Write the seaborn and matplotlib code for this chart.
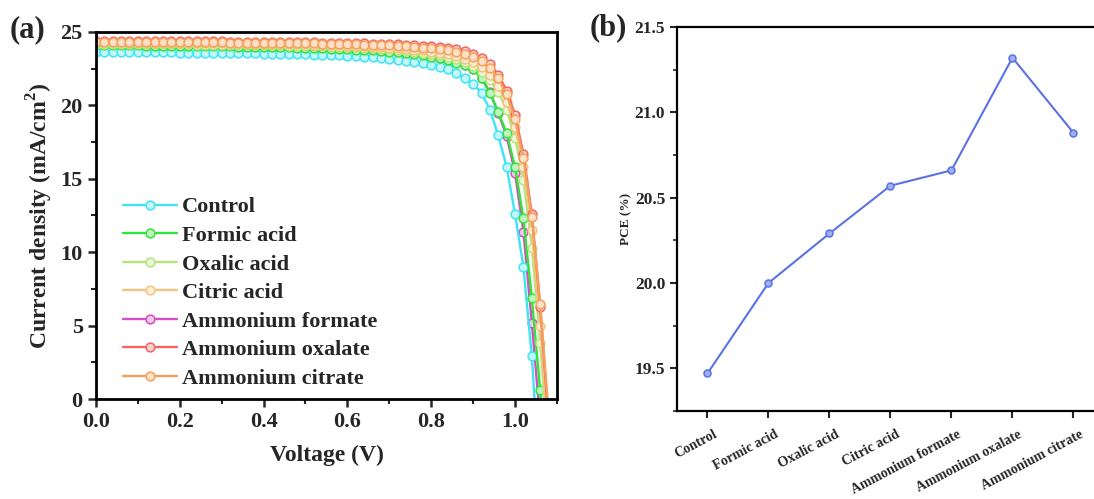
import numpy as np
import pandas as pd
import matplotlib
matplotlib.use("Agg")
import matplotlib.pyplot as plt
import matplotlib.transforms as mtransforms
from matplotlib.ticker import MultipleLocator, FormatStrFormatter
import seaborn as sns

# ---------------- data ----------------
# J-V sweep voltages (V)
voltage = [
    0.00, 0.02, 0.04, 0.06, 0.08, 0.10, 0.12, 0.14, 0.16, 0.18, 0.20,
    0.22, 0.24, 0.26, 0.28, 0.30, 0.32, 0.34, 0.36, 0.38, 0.40, 0.42,
    0.44, 0.46, 0.48, 0.50, 0.52, 0.54, 0.56, 0.58, 0.60, 0.62, 0.64,
    0.66, 0.68, 0.70, 0.72, 0.74, 0.76, 0.78, 0.80, 0.82, 0.84, 0.86,
    0.88, 0.90, 0.92, 0.94, 0.96, 0.98, 1.00, 1.02, 1.04, 1.06, 1.08,
]

# current density (mA/cm2) for each device
j_control = [
    23.65, 23.65, 23.64, 23.64, 23.63, 23.63, 23.62, 23.62, 23.61, 23.61, 23.60,
    23.60, 23.59, 23.58, 23.58, 23.57, 23.56, 23.56, 23.55, 23.54, 23.53, 23.52,
    23.51, 23.50, 23.49, 23.47, 23.46, 23.44, 23.42, 23.40, 23.37, 23.34, 23.31,
    23.27, 23.23, 23.18, 23.12, 23.05, 22.97, 22.88, 22.77, 22.64, 22.45, 22.20,
    21.85, 21.45, 20.85, 19.70, 17.95, 15.80, 12.60, 9.00, 2.90, -6.00, -15.00,
]
j_formic = [
    24.10, 24.10, 24.09, 24.09, 24.08, 24.08, 24.07, 24.07, 24.06, 24.06, 24.05,
    24.05, 24.04, 24.04, 24.03, 24.02, 24.02, 24.01, 24.00, 23.99, 23.98, 23.97,
    23.96, 23.95, 23.94, 23.92, 23.91, 23.89, 23.87, 23.85, 23.83, 23.80, 23.77,
    23.74, 23.70, 23.66, 23.61, 23.55, 23.49, 23.42, 23.33, 23.21, 23.07, 22.92,
    22.75, 22.45, 21.85, 20.85, 19.55, 18.10, 15.80, 12.30, 6.90, 0.60, -7.00,
]
j_oxalic = [
    24.20, 24.20, 24.19, 24.19, 24.18, 24.18, 24.17, 24.17, 24.16, 24.16, 24.15,
    24.15, 24.14, 24.14, 24.13, 24.13, 24.12, 24.12, 24.11, 24.10, 24.10, 24.09,
    24.08, 24.07, 24.06, 24.05, 24.04, 24.02, 24.01, 23.99, 23.97, 23.95, 23.92,
    23.89, 23.86, 23.82, 23.78, 23.73, 23.67, 23.60, 23.52, 23.42, 23.30, 23.15,
    22.95, 22.70, 22.30, 21.70, 20.90, 19.70, 17.80, 14.90, 10.30, 3.80, -4.00,
]
j_citric = [
    24.30, 24.30, 24.29, 24.29, 24.28, 24.28, 24.27, 24.27, 24.26, 24.26, 24.25,
    24.25, 24.24, 24.24, 24.23, 24.23, 24.22, 24.22, 24.21, 24.20, 24.20, 24.19,
    24.18, 24.17, 24.16, 24.15, 24.14, 24.12, 24.11, 24.09, 24.07, 24.05, 24.03,
    24.00, 23.97, 23.94, 23.90, 23.85, 23.80, 23.74, 23.67, 23.58, 23.47, 23.34,
    23.18, 22.95, 22.60, 22.05, 21.30, 20.20, 18.50, 15.80, 11.50, 5.00, -3.00,
]
j_amm_formate = [
    24.15, 24.15, 24.14, 24.14, 24.13, 24.13, 24.12, 24.12, 24.11, 24.11, 24.10,
    24.10, 24.09, 24.09, 24.08, 24.07, 24.07, 24.06, 24.05, 24.04, 24.03, 24.02,
    24.01, 24.00, 23.99, 23.97, 23.96, 23.94, 23.92, 23.90, 23.88, 23.85, 23.82,
    23.79, 23.75, 23.71, 23.66, 23.60, 23.54, 23.47, 23.38, 23.26, 23.12, 22.96,
    22.78, 22.48, 21.88, 20.88, 19.50, 17.90, 15.40, 11.40, 5.20, -1.50, -9.00,
]
j_amm_oxalate = [
    24.42, 24.42, 24.41, 24.41, 24.40, 24.40, 24.40, 24.39, 24.39, 24.38, 24.38,
    24.38, 24.37, 24.37, 24.36, 24.36, 24.35, 24.35, 24.34, 24.34, 24.33, 24.33,
    24.32, 24.31, 24.31, 24.30, 24.29, 24.28, 24.27, 24.26, 24.25, 24.24, 24.22,
    24.21, 24.19, 24.17, 24.15, 24.13, 24.10, 24.07, 24.03, 23.98, 23.91, 23.83,
    23.70, 23.50, 23.25, 22.80, 22.10, 21.00, 19.35, 16.70, 12.60, 6.30, -1.50,
]
j_amm_citrate = [
    24.35, 24.35, 24.34, 24.34, 24.33, 24.33, 24.33, 24.32, 24.32, 24.31, 24.31,
    24.31, 24.30, 24.30, 24.29, 24.29, 24.28, 24.28, 24.27, 24.27, 24.26, 24.26,
    24.25, 24.24, 24.24, 24.23, 24.22, 24.21, 24.20, 24.19, 24.18, 24.16, 24.14,
    24.12, 24.10, 24.08, 24.05, 24.02, 23.98, 23.94, 23.89, 23.82, 23.74, 23.64,
    23.50, 23.30, 23.00, 22.55, 21.85, 20.75, 19.05, 16.40, 12.40, 6.50, -1.00,
]

samples = ["Control", "Formic acid", "Oxalic acid", "Citric acid",
           "Ammonium formate", "Ammonium oxalate", "Ammonium citrate"]
jv_curves = [j_control, j_formic, j_oxalic, j_citric,
             j_amm_formate, j_amm_oxalate, j_amm_citrate]

# power conversion efficiency (%)
pce = [19.47, 20.00, 20.29, 20.57, 20.66, 21.32, 20.88]

# ---------------- style ----------------
sns.set_style("ticks")
plt.rcParams["font.family"] = ["Liberation Serif", "DejaVu Serif"]
plt.rcParams["font.weight"] = "bold"
plt.rcParams["axes.labelweight"] = "bold"
plt.rcParams["mathtext.fontset"] = "custom"
plt.rcParams["mathtext.rm"] = "Liberation Serif:bold"
plt.rcParams["mathtext.bf"] = "Liberation Serif:bold"

line_colors = {"Control": "#3fe4f2", "Formic acid": "#33e33a",
               "Oxalic acid": "#b5e67d", "Citric acid": "#f4c47e",
               "Ammonium formate": "#d14fc0", "Ammonium oxalate": "#f26464",
               "Ammonium citrate": "#f5a15c"}
face_colors = {"Control": "#c4f7fb", "Formic acid": "#bdf6c0",
               "Oxalic acid": "#eaf7d8", "Citric acid": "#fcedd6",
               "Ammonium formate": "#f1c8ea", "Ammonium oxalate": "#fcd0d0",
               "Ammonium citrate": "#fde0c8"}

fig = plt.figure(figsize=(10.94, 4.99), dpi=100)
ax_a = fig.add_axes([0.0877, 0.2004, 0.4214, 0.7355])
ax_b = fig.add_axes([0.6188, 0.1764, 0.3903, 0.7695])

# ---------------- (a) J-V curves ----------------
jv = pd.concat(
    [pd.DataFrame({"V": voltage, "J": j, "sample": s})
     for s, j in zip(samples, jv_curves)],
    ignore_index=True,
)
# ammonium formate sits underneath the other curves
draw_order = ["Ammonium formate", "Control", "Formic acid", "Oxalic acid",
              "Citric acid", "Ammonium oxalate", "Ammonium citrate"]
for s in draw_order:
    sub = jv[jv["sample"] == s]
    sns.lineplot(data=sub, x="V", y="J", ax=ax_a, color=line_colors[s],
                 lw=1.7, marker="o", markersize=6.3,
                 markerfacecolor=face_colors[s],
                 markeredgecolor=line_colors[s], markeredgewidth=1.1,
                 sort=False, estimator=None, label=s)

ax_a.set_xlim(0, 1.1)
ax_a.set_ylim(0, 25)
ax_a.xaxis.set_major_locator(MultipleLocator(0.2))
ax_a.xaxis.set_minor_locator(MultipleLocator(0.1))
ax_a.yaxis.set_major_locator(MultipleLocator(5))
ax_a.yaxis.set_minor_locator(MultipleLocator(2.5))
ax_a.xaxis.set_major_formatter(FormatStrFormatter("%.1f"))
ax_a.tick_params(which="major", direction="out", length=6, width=1.8,
                 labelsize=16)
ax_a.tick_params(which="minor", direction="out", length=3.5, width=1.5)
for sp in ax_a.spines.values():
    sp.set_linewidth(2.0)
    sp.set_color("black")
ax_a.set_xlabel("Voltage (V)", fontsize=17, fontweight="bold", labelpad=9)
ax_a.set_ylabel(r"Current density (mA/cm$^2$)", fontsize=17,
                fontweight="bold", labelpad=4)

handles, labels = ax_a.get_legend_handles_labels()
by_label = dict(zip(labels, handles))
ax_a.legend([by_label[s] for s in samples], samples, loc="upper left",
            bbox_to_anchor=(0.04, 0.575), frameon=False, fontsize=16,
            handlelength=2.4, handletextpad=0.25, labelspacing=0.36,
            borderaxespad=0)

# ---------------- (b) PCE ----------------
pce_df = pd.DataFrame({"sample": samples, "PCE": pce})
sns.pointplot(data=pce_df, x="sample", y="PCE", ax=ax_b, color="#5b72e6",
              markers="o", markersize=5, linewidth=1.5, errorbar=None)
for ln in ax_b.lines:
    ln.set_markerfacecolor("#9fb0f5")
    ln.set_markeredgecolor("#5b72e6")

ax_b.set_xlim(-0.5, 6.5)
ax_b.set_ylim(19.25, 21.5)
ax_b.yaxis.set_major_locator(MultipleLocator(0.5))
ax_b.yaxis.set_minor_locator(MultipleLocator(0.25))
ax_b.yaxis.set_major_formatter(FormatStrFormatter("%.1f"))
ax_b.tick_params(which="major", direction="out", length=5, width=1.5,
                 labelsize=12.5)
ax_b.tick_params(axis="y", which="minor", direction="out", length=3, width=1.2)
ax_b.tick_params(axis="x", labelsize=10, pad=7)
for sp in ax_b.spines.values():
    sp.set_linewidth(1.6)
    sp.set_color("black")
ax_b.set_xlabel("")
ax_b.set_ylabel("PCE (%)", fontsize=9.5, fontweight="bold", labelpad=2)

shift = mtransforms.ScaledTranslation(4 / 72, 0, fig.dpi_scale_trans)
for lbl in ax_b.get_xticklabels():
    lbl.set_rotation(28)
    lbl.set_ha("right")
    lbl.set_va("top")
    lbl.set_rotation_mode("anchor")
    lbl.set_fontweight("bold")
    lbl.set_transform(lbl.get_transform() + shift)

# panel tags
fig.text(0.009, 0.94, "(a)", fontsize=22, fontweight="bold", va="center")
fig.text(0.539, 0.945, "(b)", fontsize=22, fontweight="bold", va="center")

fig.savefig("out.png", dpi=100, facecolor="white")
